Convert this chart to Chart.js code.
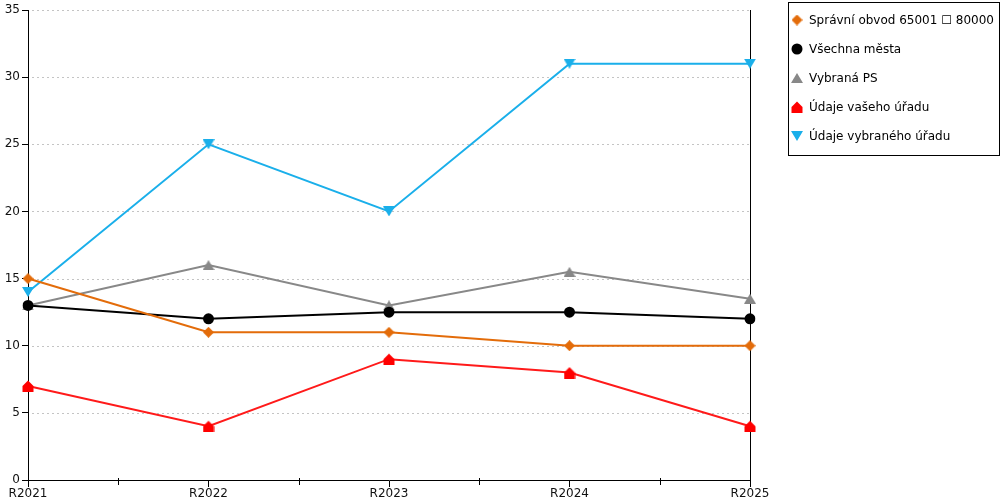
<!DOCTYPE html>
<html>
<head>
<meta charset="utf-8">
<script src="https://cdn.jsdelivr.net/npm/chart.js@4"></script>
<style>
  body { margin: 0; background: #fff; }
  #wrap { width: 1000px; height: 500px; }
</style>
</head>
<body>
<div id="wrap"><canvas id="chart" width="1000" height="500"></canvas></div>
<script>
// Data
const years = ['R2021', 'R2022', 'R2023', 'R2024', 'R2025'];
const spravniObvod = [15, 11, 11, 10, 10];
const vsechnaMesta = [13, 12, 12.5, 12.5, 12];
const vybranaPS = [13, 16, 13, 15.5, 13.5];
const vasUrad = [7, 4, 9, 8, 4];
const vybranyUrad = [14, 25, 20, 31, 31];
const yTicks = [0, 5, 10, 15, 20, 25, 30, 35];

const FONT = 'DejaVu Sans';

// small canvas markers, centred on their bounding box
function marker(w, h, color, pts) {
    const c = document.createElement('canvas');
    c.width = w;
    c.height = h;
    const g = c.getContext('2d');
    g.fillStyle = color;
    g.beginPath();
    pts.forEach((p, i) => i ? g.lineTo(p[0], p[1]) : g.moveTo(p[0], p[1]));
    g.closePath();
    g.fill();
    return c;
}

const houseMark = marker(12, 12, '#FF0000', [[0.5, 6], [6, 0.5], [11.5, 6], [11.5, 12], [0.5, 12]]);
const upMark = marker(12, 10, '#888888', [[6, 0], [12, 10], [0, 10]]);
const downMark = marker(12, 10, '#1AAFEA', [[0, 0], [12, 0], [6, 10]]);
const diamondMark = marker(11, 11, '#E36C0A', [[5.5, 0], [11, 5.5], [5.5, 11], [0, 5.5]]);

function series(label, data, color, style, radius) {
    return {
        label: label,
        data: data,
        borderColor: color,
        backgroundColor: color,
        pointBackgroundColor: color,
        pointBorderColor: color,
        borderWidth: 2,
        pointStyle: style,
        pointRadius: radius,
        pointHoverRadius: radius,
        pointBorderWidth: 0,
        tension: 0
    };
}

// dashed horizontal grid, right frame line and half-step ticks
const decorations = {
    id: 'decorations',
    beforeDatasetsDraw(chart) {
        const ctx = chart.ctx;
        const area = chart.chartArea;
        const y = chart.scales.y;
        const x = chart.scales.x;
        ctx.save();
        ctx.strokeStyle = '#c4c4c4';
        ctx.lineWidth = 1;
        ctx.setLineDash([2, 3]);
        yTicks.forEach(v => {
            if (v === 0) return;
            const py = Math.round(y.getPixelForValue(v)) + 0.5;
            ctx.beginPath();
            ctx.moveTo(area.left + 4, py);
            ctx.lineTo(area.right, py);
            ctx.stroke();
        });
        ctx.setLineDash([]);
        ctx.strokeStyle = '#000';
        const rx = Math.round(x.getPixelForValue(years.length - 1)) + 0.5;
        ctx.beginPath();
        ctx.moveTo(rx, area.top);
        ctx.lineTo(rx, area.bottom);
        ctx.stroke();
        for (let i = 0; i < years.length - 1; i++) {
            const mx = Math.round((x.getPixelForValue(i) + x.getPixelForValue(i + 1)) / 2) + 0.5;
            ctx.beginPath();
            ctx.moveTo(mx, area.bottom - 2);
            ctx.lineTo(mx, area.bottom + 5);
            ctx.stroke();
        }
        ctx.restore();
    }
};

// framed legend on the right
const boxLegend = {
    id: 'boxLegend',
    afterDraw(chart) {
        const ctx = chart.ctx;
        ctx.save();
        ctx.strokeStyle = '#000';
        ctx.lineWidth = 1;
        ctx.strokeRect(788.5, 2.5, 211, 153);
        ctx.font = '12px "' + FONT + '"';
        ctx.textBaseline = 'middle';
        chart.data.datasets.forEach((ds, i) => {
            const cy = 20 + i * 29;
            ctx.fillStyle = ds.pointBackgroundColor;
            ctx.strokeStyle = ds.pointBorderColor;
            Chart.helpers.drawPoint(ctx, {
                pointStyle: ds.pointStyle,
                radius: ds.pointRadius,
                rotation: 0,
                borderWidth: 0
            }, 797, cy);
            ctx.fillStyle = '#000';
            ctx.fillText(ds.label, 809, cy + 1);
        });
        ctx.restore();
    }
};

new Chart(document.getElementById('chart'), {
    type: 'line',
    data: {
        labels: years,
        datasets: [
            series('Správní obvod 65001 \u2610 80000', spravniObvod, '#E36C0A', diamondMark, 6),
            series('Všechna města', vsechnaMesta, '#000000', 'circle', 5.5),
            series('Vybraná PS', vybranaPS, '#888888', upMark, 6),
            series('Údaje vašeho úřadu', vasUrad, '#FF1A1A', houseMark, 6),
            series('Údaje vybraného úřadu', vybranyUrad, '#1AAFEA', downMark, 6)
        ]
    },
    options: {
        responsive: false,
        animation: false,
        events: [],
        layout: { padding: { left: 0, right: 250, top: 10, bottom: 0 } },
        plugins: {
            legend: { display: false },
            tooltip: { enabled: false }
        },
        scales: {
            x: {
                offset: false,
                afterFit: s => { s.height = 20; },
                grid: { drawOnChartArea: false, tickLength: 7, tickColor: '#000' },
                border: { color: '#000', width: 1 },
                ticks: { color: '#111', font: { family: FONT, size: 12 }, padding: 0, maxRotation: 0 }
            },
            y: {
                min: 0,
                max: 35,
                afterFit: s => { s.width = 28; },
                afterBuildTicks: s => { s.ticks = yTicks.map(v => ({ value: v })); },
                grid: { drawOnChartArea: false, tickLength: 6, tickColor: '#000' },
                border: { color: '#000', width: 1 },
                ticks: { color: '#111', font: { family: FONT, size: 12 }, padding: 2 }
            }
        }
    },
    plugins: [decorations, boxLegend]
});
</script>
</body>
</html>
